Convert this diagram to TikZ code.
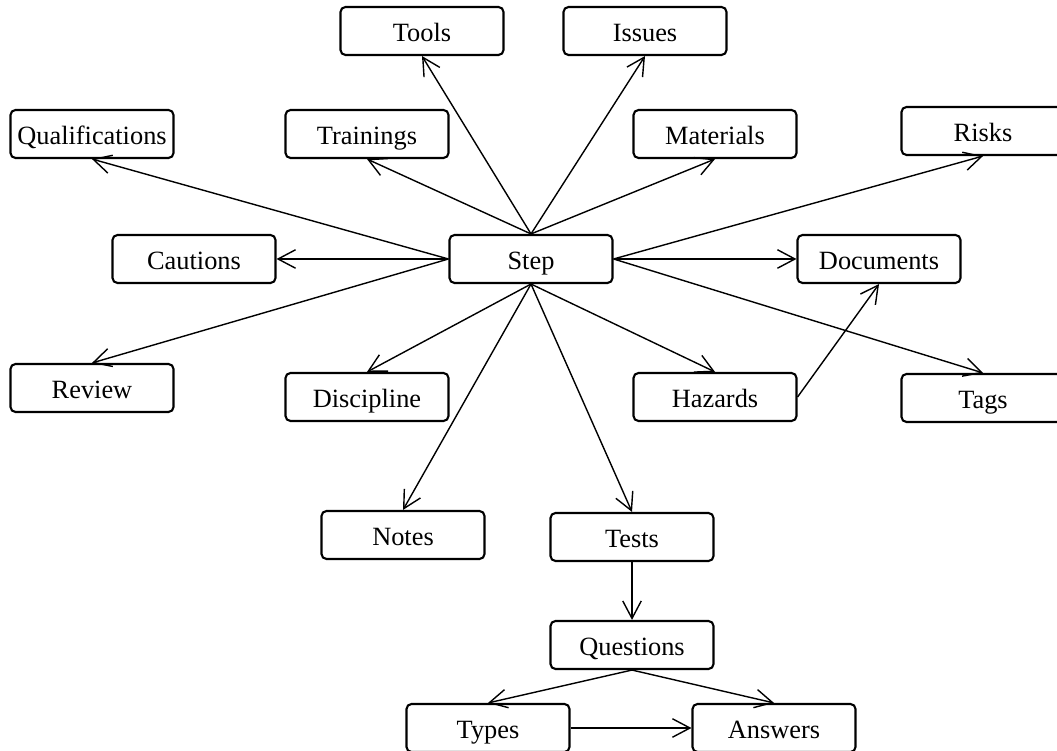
\documentclass[tikz,border=0pt]{standalone}
\usepackage{fontspec}
\setmainfont{Liberation Serif}
\usetikzlibrary{arrows.meta,positioning}

\begin{document}
\begin{tikzpicture}[
  box/.style={draw,rounded corners=0.1cm,line width=1.2pt,minimum width=3.26cm,
    minimum height=0.96cm,inner sep=0pt,text height=12pt,text depth=0pt,
    font=\fontsize{15}{18}\selectfont},
  arr/.style={-{Straight Barb[length=3.5mm,width=3.7mm]},line width=0.8pt}]

\useasboundingbox (0,0) rectangle (21.14,15.02);

\node[box] (step) at (10.62, 9.84) {Step};

\node[box] (tools)     at ( 8.44,14.40) {Tools};
\node[box] (issues)    at (12.90,14.40) {Issues};
\node[box] (qual)      at ( 1.84,12.34) {Qualifications};
\node[box] (trainings) at ( 7.34,12.34) {Trainings};
\node[box] (materials) at (14.30,12.34) {Materials};
\node[box] (risks)     at (19.66,12.40) {Risks};
\node[box] (cautions)  at ( 3.88, 9.84) {Cautions};
\node[box] (documents) at (17.58, 9.84) {Documents};
\node[box] (review)    at ( 1.84, 7.26) {Review};
\node[box] (discipline) at ( 7.34, 7.08) {Discipline};
\node[box] (hazards)   at (14.30, 7.08) {Hazards};
\node[box] (tags)      at (19.66, 7.06) {Tags};
\node[box] (notes)     at ( 8.06, 4.32) {Notes};
\node[box] (tests)     at (12.64, 4.28) {Tests};
\node[box] (questions) at (12.64, 2.12) {Questions};
\node[box] (types)     at ( 9.76, 0.46) {Types};
\node[box] (answers)   at (15.48, 0.46) {Answers};

\foreach \s/\t in {north/tools.south, north/issues.south, north/trainings.south,
    north/materials.south, west/qual.south, west/cautions.east, west/review.north,
    east/risks.south, east/documents.west, east/tags.north,
    south/discipline.north, south/notes.north, south/tests.north, south/hazards.north}
  {\draw[arr] (step.\s) -- (\t);}

\draw[arr] (hazards.east) -- (documents.south);
\draw[arr] (tests.south) -- (questions.north);
\draw[arr] (questions.south) -- (types.north);
\draw[arr] (questions.south) -- (answers.north);
\draw[arr] (types.east) -- (answers.west);

\end{tikzpicture}
\end{document}
